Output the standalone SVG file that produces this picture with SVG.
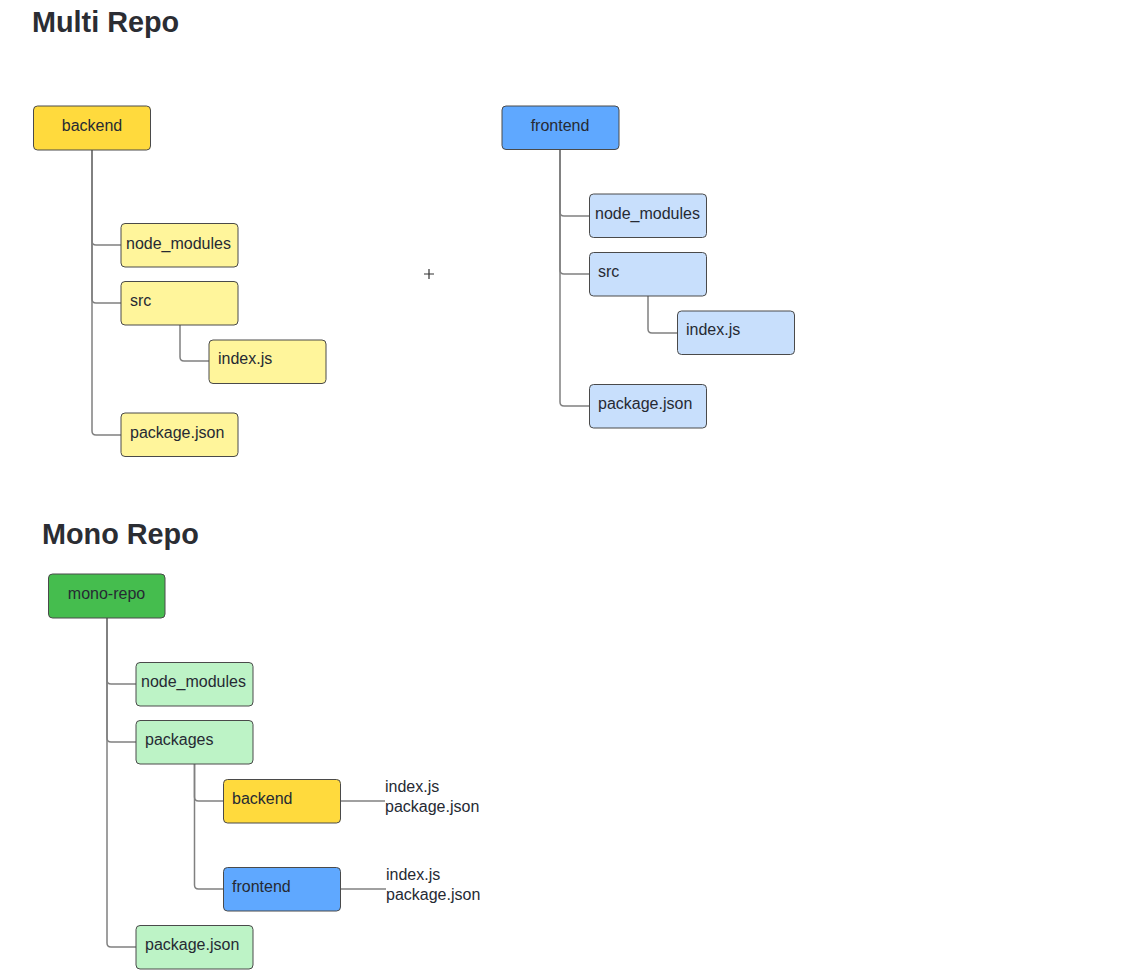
<svg xmlns="http://www.w3.org/2000/svg" width="1129" height="971" viewBox="0 0 1129 971">
<style>
.bg{fill:#ffffff}
.title{font-family:"Liberation Sans",Arial,sans-serif;font-weight:bold;font-size:28.8px;fill:#2b2d33}
.node rect{stroke:#4a4a4a;stroke-width:1;rx:4;ry:4}
.node text,.lbl{font-family:"Liberation Sans",Arial,sans-serif;font-size:16px;fill:#262a33}
.yd{fill:#FFDA3D}.yl{fill:#FFF59B}
.bd{fill:#5FA8FF}.bl{fill:#C8DFFC}
.gd{fill:#45BD4E}.gl{fill:#BDF3C6}
.conn path{fill:none;stroke:#808080;stroke-width:1.5}
</style>
<rect class="bg" x="0" y="0" width="1129" height="971"/>
<text class="title" x="32" y="32">Multi Repo</text>
<text class="title" x="42" y="544">Mono Repo</text>

<g id="connectors" class="conn">
  <path d="M92,150 V241 Q92,245 96,245 H121"/>
  <path d="M92,150 V299 Q92,303 96,303 H121"/>
  <path d="M92,150 V431 Q92,435 96,435 H121"/>
  <path d="M180,325 V357 Q180,361 184,361 H209"/>
  <path d="M560,150 V212 Q560,216 564,216 H589"/>
  <path d="M560,150 V270 Q560,274 564,274 H589"/>
  <path d="M560,150 V402 Q560,406 564,406 H589"/>
  <path d="M648,296 V329 Q648,333 652,333 H677"/>
  <path d="M107,618 V680 Q107,684 111,684 H136"/>
  <path d="M107,618 V738 Q107,742 111,742 H136"/>
  <path d="M107,618 V943 Q107,947 111,947 H136"/>
  <path d="M194.5,764 V797 Q194.5,801 198.5,801 H223"/>
  <path d="M194.5,764 V885 Q194.5,889 198.5,889 H223"/>
  <path d="M341,801 H385"/>
  <path d="M341,889 H386"/>
</g>

<g id="n-backend" class="node"><rect class="yd" x="33.5" y="106" width="117" height="44"/><text x="92" y="130.5" text-anchor="middle">backend</text></g>
<g id="n-backend-node_modules" class="node"><rect class="yl" x="121" y="223.5" width="117" height="43.5"/><text x="126" y="248.5">node_modules</text></g>
<g id="n-backend-src" class="node"><rect class="yl" x="121" y="281.5" width="117" height="43.5"/><text x="130" y="306">src</text></g>
<g id="n-backend-index" class="node"><rect class="yl" x="209" y="340" width="117" height="43.5"/><text x="218" y="364">index.js</text></g>
<g id="n-backend-package" class="node"><rect class="yl" x="121" y="413" width="117" height="43.5"/><text x="130" y="437.5">package.json</text></g>

<g id="n-frontend" class="node"><rect class="bd" x="502" y="106" width="117" height="43.5"/><text x="560" y="130.5" text-anchor="middle">frontend</text></g>
<g id="n-frontend-node_modules" class="node"><rect class="bl" x="589.5" y="194" width="117" height="43.5"/><text x="595" y="219">node_modules</text></g>
<g id="n-frontend-src" class="node"><rect class="bl" x="589.5" y="252.5" width="117" height="43.5"/><text x="598" y="277">src</text></g>
<g id="n-frontend-index" class="node"><rect class="bl" x="677.5" y="311" width="117" height="43.5"/><text x="686" y="335">index.js</text></g>
<g id="n-frontend-package" class="node"><rect class="bl" x="589.5" y="384.5" width="117" height="43.5"/><text x="598" y="409">package.json</text></g>

<g id="plus"><path d="M424,274 H434 M429,269 V279" stroke="#333" stroke-width="1.2" fill="none"/></g>

<g id="n-mono-repo" class="node"><rect class="gd" x="48.5" y="574" width="116.5" height="44"/><text x="106.5" y="598.5" text-anchor="middle">mono-repo</text></g>
<g id="n-mono-node_modules" class="node"><rect class="gl" x="136" y="662.5" width="117" height="43.5"/><text x="141" y="687">node_modules</text></g>
<g id="n-mono-packages" class="node"><rect class="gl" x="136" y="720.5" width="117" height="43.5"/><text x="145" y="745">packages</text></g>
<g id="n-mono-backend" class="node"><rect class="yd" x="223.5" y="779.5" width="117" height="43.5"/><text x="232" y="804">backend</text></g>
<g id="n-mono-frontend" class="node"><rect class="bd" x="223.5" y="867.5" width="117" height="43.5"/><text x="232" y="892">frontend</text></g>
<g id="n-mono-package" class="node"><rect class="gl" x="136" y="925.5" width="117" height="43.5"/><text x="145" y="950">package.json</text></g>

<g id="backend-files"><text class="lbl" x="385" y="792">index.js</text><text class="lbl" x="385" y="812">package.json</text></g>
<g id="frontend-files"><text class="lbl" x="386" y="880">index.js</text><text class="lbl" x="386" y="900">package.json</text></g>
</svg>
